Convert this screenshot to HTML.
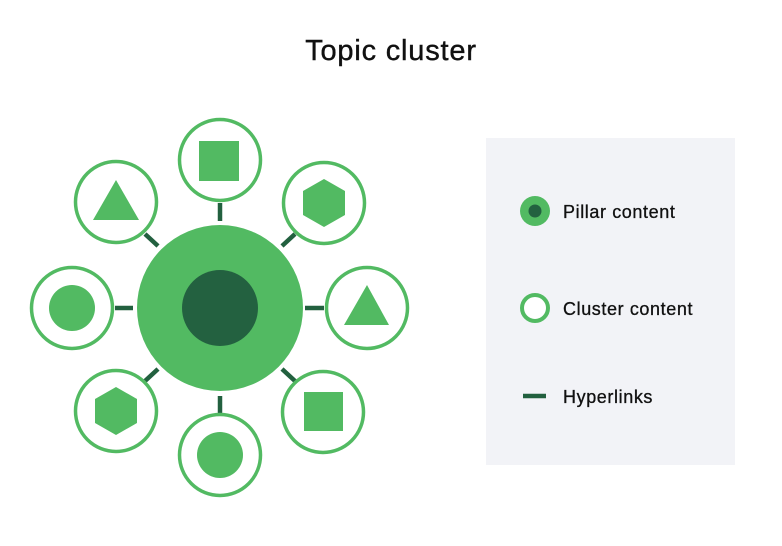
<!DOCTYPE html>
<html><head><style>
html,body{margin:0;padding:0;background:#fff;}
svg{display:block;}
text{font-family:"Liberation Sans",sans-serif;fill:#111;}
</style></head><body>
<svg width="782" height="546" viewBox="0 0 782 546" xmlns="http://www.w3.org/2000/svg">
<text x="391" y="60" font-size="29" letter-spacing="0.8" text-anchor="middle" stroke="#111" stroke-width="0.4">Topic cluster</text>
<rect x="486" y="138" width="249" height="327" fill="#f2f3f7"/>
<g stroke="#22603f" stroke-width="4.5">
<line x1="220" y1="203" x2="220" y2="221"/>
<line x1="220" y1="396" x2="220" y2="414"/>
<line x1="115" y1="308" x2="133" y2="308"/>
<line x1="305" y1="308" x2="324" y2="308"/>
<line x1="145" y1="234" x2="158" y2="246"/>
<line x1="295" y1="234" x2="282" y2="246"/>
<line x1="145" y1="381" x2="158" y2="369"/>
<line x1="295" y1="381" x2="282" y2="369"/>
</g>
<circle cx="220" cy="308" r="83" fill="#52ba62"/>
<circle cx="220" cy="308" r="38" fill="#236140"/>
<g fill="#fff" stroke="#52ba62" stroke-width="3.5">
<circle cx="220" cy="160" r="40.5"/>
<circle cx="116" cy="202" r="40.5"/>
<circle cx="324" cy="203" r="40.5"/>
<circle cx="72" cy="308" r="40.5"/>
<circle cx="367" cy="308" r="40.5"/>
<circle cx="116" cy="411" r="40.5"/>
<circle cx="220" cy="455" r="40.5"/>
<circle cx="323" cy="412" r="40.5"/>
</g>
<g fill="#52ba62">
<rect x="199" y="141" width="40" height="40"/>
<polygon points="116,180 139,220 93,220"/>
<polygon points="324,179 345,191 345,215 324,227 303,215 303,191"/>
<circle cx="72" cy="308" r="23"/>
<polygon points="367,285 389,325 344,325"/>
<polygon points="116,387 137,399 137,423 116,435 95,423 95,399"/>
<circle cx="220" cy="455" r="23"/>
<rect x="304" y="392" width="39" height="39"/>
<circle cx="535" cy="211" r="15"/>
</g>
<circle cx="535" cy="211" r="6.5" fill="#236140"/>
<circle cx="535" cy="308" r="13" fill="#fff" stroke="#52ba62" stroke-width="4"/>
<line x1="523" y1="396" x2="546" y2="396" stroke="#22603f" stroke-width="4.5"/>
<g font-size="18" letter-spacing="0.6" stroke="#111" stroke-width="0.3">
<text x="563" y="218">Pillar content</text>
<text x="563" y="315">Cluster content</text>
<text x="563" y="403">Hyperlinks</text>
</g>
</svg>
</body></html>
